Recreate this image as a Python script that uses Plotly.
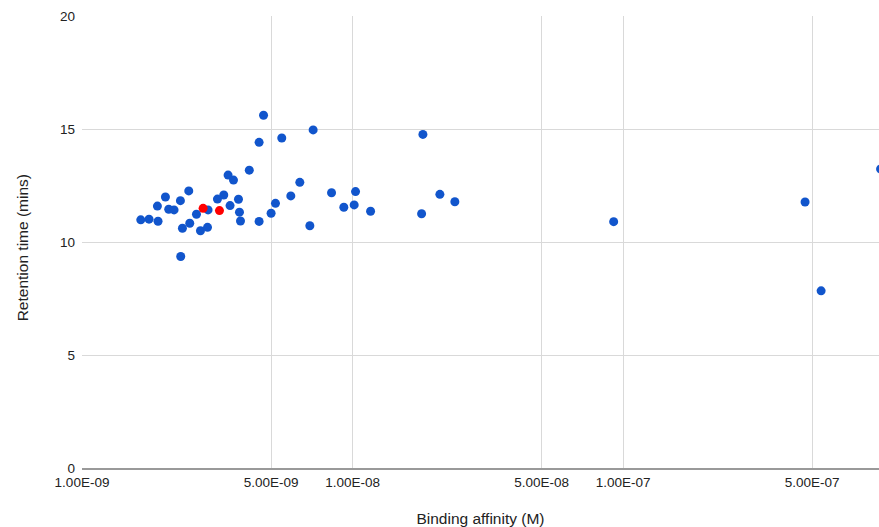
import plotly.graph_objects as go

# Binding affinity (M) and retention time (mins) - blue series
affinity = [1.649e-9, 1.769e-9, 1.910e-9, 1.900e-9, 2.034e-9, 2.092e-9, 2.189e-9, 2.311e-9,
            2.481e-9, 2.317e-9, 2.351e-9, 2.502e-9, 2.649e-9, 2.741e-9, 2.910e-9, 2.924e-9,
            3.167e-9, 3.342e-9, 3.467e-9, 3.630e-9, 3.526e-9, 3.788e-9, 3.820e-9, 3.853e-9,
            4.153e-9, 4.515e-9, 4.515e-9, 4.688e-9, 5.000e-9, 5.190e-9, 5.476e-9, 5.913e-9,
            6.384e-9, 6.953e-9, 7.151e-9, 8.364e-9, 9.286e-9, 1.014e-8, 1.026e-8, 1.166e-8,
            1.800e-8, 1.820e-8, 2.103e-8, 2.389e-8, 9.23e-8, 4.707e-7, 5.396e-7, 8.95e-7]
retention = [10.98, 11.01, 10.92, 11.59, 11.99, 11.45, 11.42, 11.83,
             12.26, 9.36, 10.61, 10.83, 11.23, 10.50, 10.65, 11.42,
             11.90, 12.08, 12.96, 12.74, 11.61, 11.89, 11.32, 10.93,
             13.18, 10.91, 14.41, 15.61, 11.27, 11.71, 14.60, 12.04,
             12.64, 10.72, 14.96, 12.18, 11.54, 11.64, 12.23, 11.36,
             11.25, 14.76, 12.11, 11.78, 10.90, 11.77, 7.84, 13.23]

# Highlighted (red) points
affinity_red = [2.803e-9, 3.222e-9]
retention_red = [11.49, 11.39]

x_tickvals = [1e-9, 5e-9, 1e-8, 5e-8, 1e-7, 5e-7]
x_ticktext = ["1.00E-09", "5.00E-09", "1.00E-08", "5.00E-08", "1.00E-07", "5.00E-07"]
y_tickvals = [0, 5, 10, 15, 20]

fig = go.Figure()
fig.add_trace(go.Scatter(x=affinity, y=retention, mode="markers",
                         marker=dict(color="#1155CC", size=9, line=dict(width=0)),
                         showlegend=False))
fig.add_trace(go.Scatter(x=affinity_red, y=retention_red, mode="markers",
                         marker=dict(color="#FF0000", size=9, line=dict(width=0)),
                         showlegend=False))

font_family = "Liberation Sans, Arial, sans-serif"
fig.update_layout(
    width=879, height=527,
    margin=dict(l=82, r=0, t=16, b=58.5, pad=0),
    paper_bgcolor="white", plot_bgcolor="white",
    font=dict(family=font_family, color="#222222", size=13),
    xaxis=dict(
        type="log", range=[-9, -6.054], automargin=False,
        tickvals=x_tickvals, ticktext=x_ticktext,
        showgrid=True, gridcolor="#d9d9d9", gridwidth=1,
        showline=True, linecolor="#999999", linewidth=2,
        zeroline=False, ticks="", ticklabelstandoff=1,
        tickfont=dict(size=13.5, color="#222222"),
        title=dict(text="Binding affinity (M)", font=dict(size=15.5, color="#222222"), standoff=27),
    ),
    yaxis=dict(
        range=[0, 20], tickvals=y_tickvals, automargin=False,
        showgrid=True, gridcolor="#d9d9d9", gridwidth=1,
        showline=False, zeroline=False, ticks="", ticklabelstandoff=6,
        tickfont=dict(size=13.5, color="#222222"),
    ),
    annotations=[dict(
        text="Retention time (mins)", textangle=-90, showarrow=False,
        xref="paper", yref="paper", x=0, y=0.486, xanchor="center", yanchor="middle",
        xshift=-60, font=dict(size=15.5, color="#222222"),
    )],
)

fig.write_html("out.html")
